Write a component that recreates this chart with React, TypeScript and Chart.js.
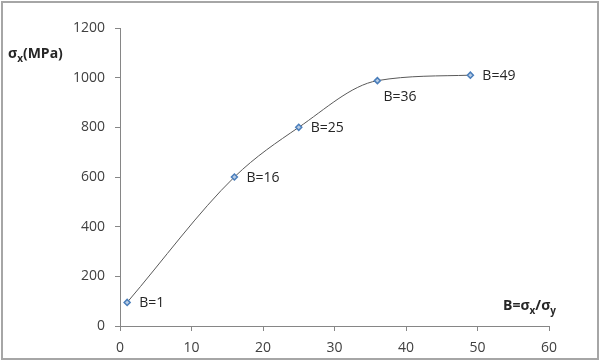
import React, { useEffect, useRef } from "react";
import { Chart, registerables } from "chart.js";

Chart.register(...registerables);

const bValues = [1, 16, 25, 36, 49];
const sigmaX = [95, 600, 800, 988, 1010];
const pointLabels = ["B=1", "B=16", "B=25", "B=36", "B=49"];
const xTicks = [0, 10, 20, 30, 40, 50, 60];
const yTicks = [0, 200, 400, 600, 800, 1000, 1200];

const FONT = "'Open Sans', 'Liberation Sans', sans-serif";

const labelPlugin = {
  id: "pointLabels",
  afterDatasetsDraw(chart: any) {
    const meta = chart.getDatasetMeta(0);
    const ctx = chart.ctx;
    ctx.save();
    ctx.font = `14px ${FONT}`;
    ctx.fillStyle = "#262626";
    ctx.textBaseline = "middle";
    meta.data.forEach((pt: any, i: number) => {
      const below = pointLabels[i] === "B=36";
      ctx.textAlign = "left";
      if (below) {
        ctx.fillText(pointLabels[i], pt.x + 6, pt.y + 16);
      } else {
        ctx.fillText(pointLabels[i], pt.x + 12, pt.y + 1);
      }
    });
    ctx.restore();
  },
};

export default function App() {
  const ref = useRef<HTMLCanvasElement>(null);
  useEffect(() => {
    if (!ref.current) return;
    const chart = new Chart(ref.current, {
      type: "scatter",
      data: {
        datasets: [
          {
            data: bValues.map((b, i) => ({ x: b, y: sigmaX[i] })),
            showLine: true,
            cubicInterpolationMode: "monotone",
            borderColor: "#595959",
            borderWidth: 1,
            pointStyle: "rectRot",
            pointRadius: 3,
            pointBorderWidth: 1.5,
            pointBorderColor: "#4a7ebb",
            pointBackgroundColor: "#b9cde5",
          },
        ],
      },
      options: {
        animation: false,
        responsive: false,
        devicePixelRatio: 1,
        layout: { padding: { left: 0, right: 51, top: 28, bottom: 0 } },
        plugins: { legend: { display: false }, tooltip: { enabled: false } },
        scales: {
          x: {
            type: "linear",
            min: 0,
            max: 60,
            afterBuildTicks: (s: any) => {
              s.ticks = xTicks.map((v) => ({ value: v }));
            },
            afterFit: (s: any) => {
              s.height = 35;
            },
            grid: { drawOnChartArea: false, drawTicks: true, tickLength: 5, color: "#868686" },
            border: { color: "#868686", width: 1 },
            ticks: {
              color: "#404040",
              font: { family: FONT, size: 14 },
              padding: 9,
              maxRotation: 0,
              callback: (v: any) => String(v),
            },
          },
          y: {
            type: "linear",
            min: 0,
            max: 1200,
            afterBuildTicks: (s: any) => {
              s.ticks = yTicks.map((v) => ({ value: v }));
            },
            afterFit: (s: any) => {
              s.width = 120;
            },
            grid: { drawOnChartArea: false, drawTicks: true, tickLength: 5, color: "#868686" },
            border: { color: "#868686", width: 1 },
            ticks: {
              color: "#404040",
              font: { family: FONT, size: 14 },
              padding: 10,
              callback: (v: any) => String(v),
            },
          },
        },
      },
      plugins: [labelPlugin],
    });
    return () => chart.destroy();
  }, []);

  return (
    <div style={{ position: "absolute", left: 0, top: 0, width: 600, height: 361, background: "#fff" }}>
      <canvas ref={ref} width={600} height={361} style={{ position: "absolute", left: 0, top: 0 }} />
      <div
        style={{
          position: "absolute",
          left: 1,
          top: 1,
          width: 594,
          height: 355,
          border: "2px solid #a6a6a6",
          pointerEvents: "none",
        }}
      />
      <div
        style={{
          position: "absolute",
          left: 8,
          top: 43,
          font: `bold 14px ${FONT}`,
          color: "#262626",
          whiteSpace: "nowrap",
        }}
      >
        σ<sub style={{ fontSize: 10 }}>x</sub>(MPa)
      </div>
      <div
        style={{
          position: "absolute",
          left: 503,
          top: 295,
          font: `bold 14px ${FONT}`,
          color: "#262626",
          whiteSpace: "nowrap",
        }}
      >
        B=σ<sub style={{ fontSize: 10 }}>x</sub>/σ<sub style={{ fontSize: 10 }}>y</sub>
      </div>
    </div>
  );
}
